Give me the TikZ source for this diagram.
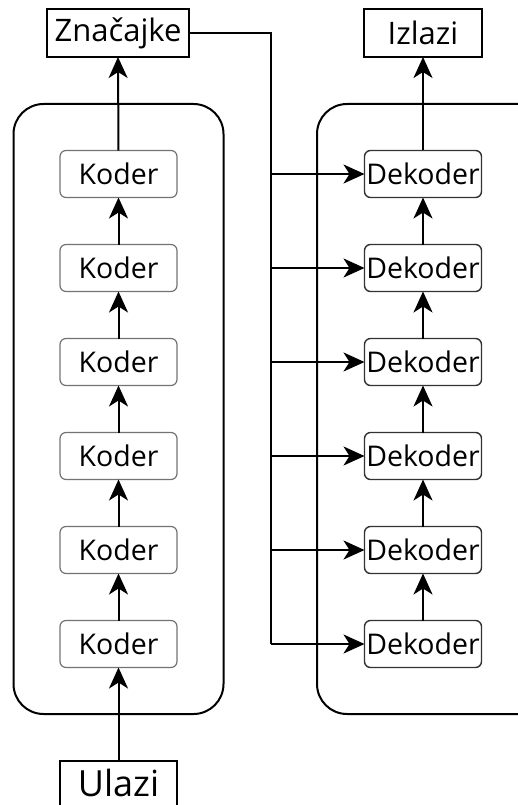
\documentclass[tikz,border=0pt]{standalone}
\usepackage{fontspec}
\setmainfont{Open Sans}
\usetikzlibrary{arrows.meta,calc}
\begin{document}
\begin{tikzpicture}[x=1pt,y=1pt,
  every node/.style={inner sep=0pt,outer sep=0pt},
  arr/.style={line width=2pt,-{Stealth[length=21pt,width=19pt,inset=6pt]}},
  ln/.style={line width=2pt},
  inner/.style={draw=black!55,line width=1.2pt,rounded corners=6pt,minimum width=117pt,minimum height=47pt,font=\fontsize{28.5}{30}\selectfont},
  decbox/.style={inner,draw=black!80,line width=1.4pt},
  outer/.style={draw=black,line width=2pt,minimum height=48pt,font=\fontsize{31}{33}\selectfont},
  container/.style={draw=black,line width=2pt,rounded corners=30pt}
]
\useasboundingbox (0,0) rectangle (518,-805);
% containers
\node[container,minimum width=210pt,minimum height=610pt] (enc) at (118.5,-409) {};
\node[container,minimum width=232pt,minimum height=610pt] (dec) at (433,-409) {};
% top and bottom boxes
\node[outer,minimum width=142pt] (zn) at (118,-33) {Značajke};
\node[outer,minimum width=118pt] (iz) at (423,-33) {Izlazi};
\node[minimum width=117pt,minimum height=44pt,font=\fontsize{36}{38}\selectfont] (ul) at (118.5,-783) {Ulazi};
\draw[ln,line join=miter] (ul.south west) -- (ul.north west) -- (ul.north east) -- (ul.south east);
% encoders and decoders
\foreach \i/\y in {1/174,2/268,3/362,4/456,5/550,6/644}{
  \node[inner] (k\i) at (118.5,-\y) {Koder};
  \node[decbox] (d\i) at (423,-\y) {Dekoder};
}
% encoder chain
\draw[arr] (ul.north) -- (k6.south);
\draw[arr] (k6.north) -- (k5.south);
\draw[arr] (k5.north) -- (k4.south);
\draw[arr] (k4.north) -- (k3.south);
\draw[arr] (k3.north) -- (k2.south);
\draw[arr] (k2.north) -- (k1.south);
\draw[arr] (k1.north) -- (zn.south);
% decoder chain
\draw[arr] (d6.north) -- (d5.south);
\draw[arr] (d5.north) -- (d4.south);
\draw[arr] (d4.north) -- (d3.south);
\draw[arr] (d3.north) -- (d2.south);
\draw[arr] (d2.north) -- (d1.south);
\draw[arr] (d1.north) -- (iz.south);
% feature bus
\coordinate (bustop) at (271,-33);
\coordinate (busbot) at (271,-644);
\draw[ln,line join=miter] (zn.east) -- (bustop) -- (busbot);
\foreach \i in {1,...,6}{
  \draw[arr] (bustop|-d\i.west) -- (d\i.west);
}
\end{tikzpicture}
\end{document}
